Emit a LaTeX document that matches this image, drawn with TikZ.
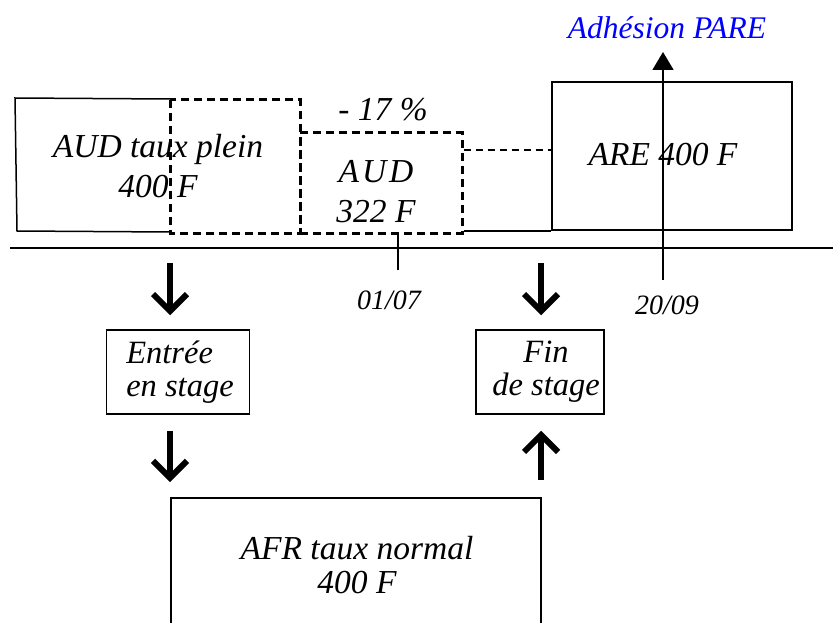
\documentclass[tikz,border=0pt]{standalone}
\usepackage{fontspec}
\setmainfont{Liberation Serif}
\usetikzlibrary{arrows.meta}

\tikzset{
	trait/.style={line width=1.5pt},
	boite/.style={draw, line width=1.5pt, inner sep=0pt},
	tirets/.style={draw, line width=3pt, dash pattern=on 8pt off 5pt},
	grand/.style={font=\fontsize{33.5}{40}\selectfont\itshape, align=center},
	petit/.style={font=\fontsize{28}{30}\selectfont\itshape},
	fleche/.style={line width=6pt, -{Straight Barb[length=17pt,width=34pt]}},
}

\begin{document}
\begin{tikzpicture}[x=1pt,y=-1pt]
			\useasboundingbox (0,0) rectangle (833,623);
			% axe du temps
			\draw[trait](10,248) -- (833,248);
			% AUD taux plein
			\draw[trait](170,99) -- (15,98) -- (17,231) -- (170,232);
			\node[grand] (plein) at (158,166) {AUD taux plein\\400 F};
			\draw[tirets](170,100) rectangle (300,233);
			\node[tirets, minimum width=162pt, minimum height=100pt, inner sep=0pt] (aud) at (381,183) {};
			\node[grand] at (376,192) {A\kern3pt U\kern3pt D\\322 F};
			\node[grand] (baisse) at (383,110) {- 17 \%};
			% ARE
			\node[boite, minimum width=240pt, minimum height=148pt] (are) at (672,156) {};
			\node[grand] at (663,155) {ARE 400 F};
			\draw[line width=1.2pt, dash pattern=on 7pt off 5pt](aud.east |- 0,150) -- ([yshift=6pt]are.west);
			\draw[trait](are.south west -| aud.east) -- (are.south west);
			% dates
			\coordinate (t1) at (398,270);
			\draw[trait](aud.south -| t1) -- (t1);
			\node[petit] (d1) at (389,300) {01/07};
			\coordinate (t2) at (663,280);
			\node[grand, font=\fontsize{31.5}{36}\selectfont\itshape, text=blue] (pare) at (667,28) {Adhésion PARE};
			\draw[trait, -{Triangle[length=18pt,width=21pt]}](t2) -- (663,52);
			\node[petit] (d2) at (667,305) {20/09};
			% stage
			\node[boite, minimum width=143pt, minimum height=84pt, align=left, font=\fontsize{32.5}{33}\selectfont\itshape] (entree) at (178,372) {\hspace*{4pt}Entrée\\\hspace*{4pt}en stage};
			\node[boite, minimum width=128pt, minimum height=84pt, align=center, font=\fontsize{32.5}{33}\selectfont\itshape] (fin) at (540,372) {\hspace*{12pt}Fin\\\hspace*{12pt}de stage};
			\node[boite, minimum width=370pt, minimum height=170pt, anchor=north] (afr) at (356,497) {};
			\node[grand, font=\fontsize{33.5}{34}\selectfont\itshape] at (357,565) {AFR taux normal\\400 F};
			% fleches
			\coordinate (a1) at (170,263);
			\coordinate (a2) at (541,263);
			\draw[fleche, shorten >=14pt](a1) -- (a1 |- entree.north);
			\draw[fleche, shorten <=16pt, shorten >=15pt](entree.south -| a1) -- (afr.north -| a1);
			\draw[fleche, shorten >=14pt](a2) -- (a2 |- fin.north);
			\draw[fleche, shorten <=17pt, shorten >=16pt](afr.north -| a2) -- (a2 |- fin.south);
		\end{tikzpicture}
\end{document}
